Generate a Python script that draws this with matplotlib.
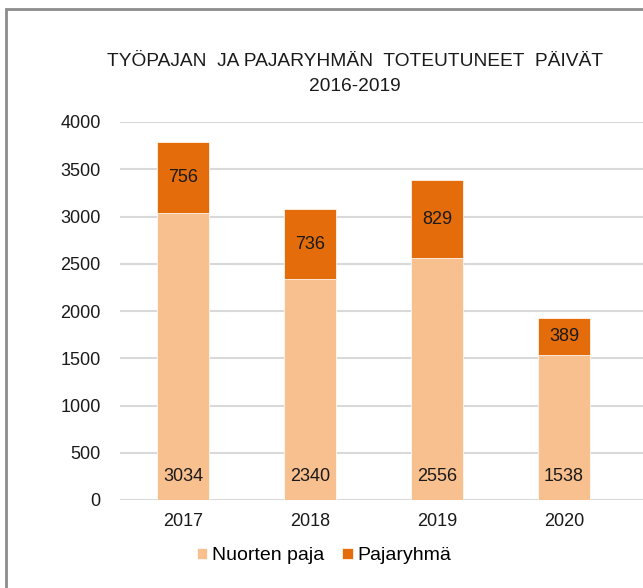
import matplotlib.pyplot as plt
from matplotlib.patches import Rectangle

years = ['2017', '2018', '2019', '2020']
nuorten_paja = [3034, 2340, 2556, 1538]
pajaryhma = [756, 736, 829, 389]

light = '#F9C08F'
dark = '#E46C0A'

plt.rcParams['font.family'] = ['Liberation Sans', 'DejaVu Sans']

fig = plt.figure(figsize=(6.43, 5.88), dpi=100)
ax = fig.add_axes([120 / 643, 1 - 500 / 588, 1 - 120 / 643, 378 / 588])

x = range(len(years))
b1 = ax.bar(x, nuorten_paja, width=0.41, color=light, edgecolor='white', linewidth=0.5,
            label='Nuorten paja', zorder=2)
b2 = ax.bar(x, pajaryhma, width=0.41, bottom=nuorten_paja, color=dark, edgecolor='white',
            linewidth=0.5, label='Pajaryhmä', zorder=2)

for i, (a, b) in enumerate(zip(nuorten_paja, pajaryhma)):
    ax.annotate(str(a), (i, 0), xytext=(0, 11), textcoords='offset points',
                ha='center', va='bottom', fontsize=13, color='#1a1a1a')
    ax.text(i, a + b / 2, str(b), ha='center', va='center', fontsize=13, color='#1a1a1a')

ax.set_xlim(-0.5, (643 - 183) / 127)
ax.set_ylim(0, 4000)
ax.set_yticks(range(0, 4001, 500))
ax.set_xticks(list(x))
ax.set_xticklabels(years)
ax.grid(axis='y', color='#d9d9d9', linewidth=1.5, zorder=0)
for s in ax.spines.values():
    s.set_visible(False)
ax.tick_params(length=0, labelsize=13, colors='#1a1a1a')
ax.tick_params(axis='y', pad=14)
ax.tick_params(axis='x', pad=9)

fig.text(355 / 643, 1 - 62 / 588, 'TYÖPAJAN  JA PAJARYHMÄN  TOTEUTUNEET  PÄIVÄT',
         ha='center', va='center', fontsize=13.8, color='#1a1a1a')
fig.text(355 / 643, 1 - 86 / 588, '2016-2019', ha='center', va='center', fontsize=13.8,
         color='#1a1a1a')

fig.legend(handles=[b1, b2], loc='center', bbox_to_anchor=(324 / 643, 1 - 556 / 588),
           ncol=2, frameon=False, fontsize=14, handlelength=0.55, handleheight=0.55,
           columnspacing=0.9, handletextpad=0.25)

fig.add_artist(Rectangle((6 / 643, -0.1), 2, 1.1 - 9 / 588, transform=fig.transFigure,
                         fill=False, edgecolor='#8c8c8c', linewidth=2))

fig.savefig('out.png', dpi=100)
